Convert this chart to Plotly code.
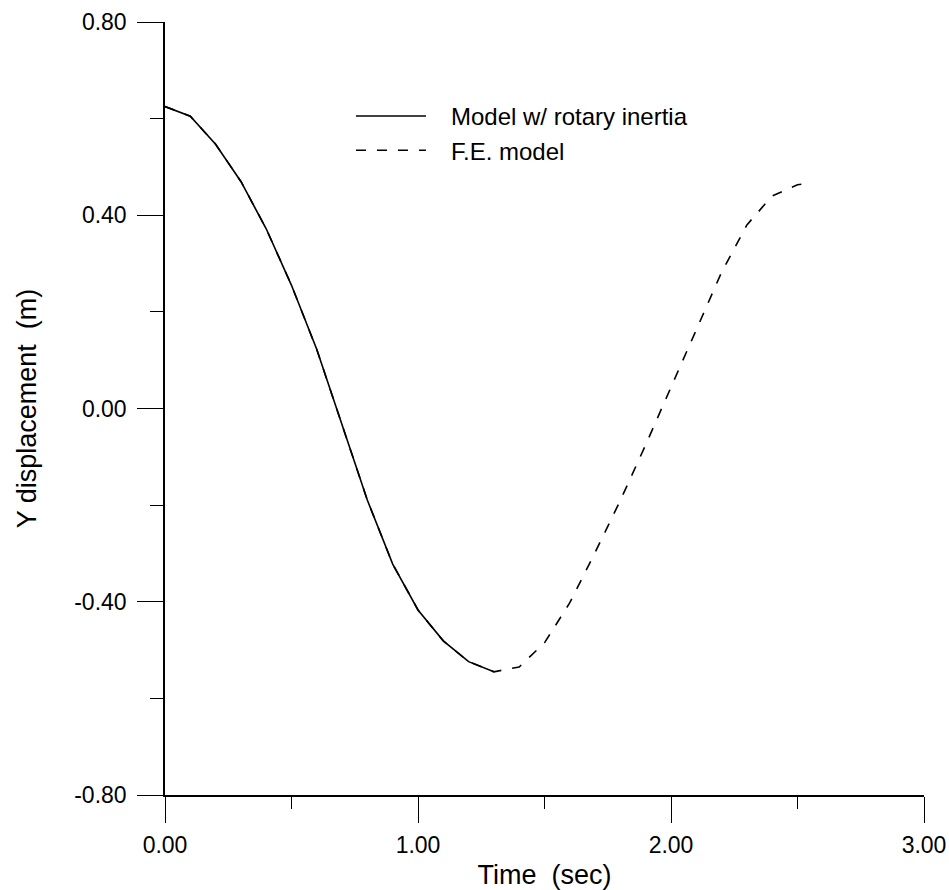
import plotly.graph_objects as go

# Data
t_rot = [0.0, 0.1, 0.2, 0.3, 0.4, 0.5, 0.6, 0.7, 0.8, 0.9, 1.0, 1.1, 1.2, 1.3]
y_rot = [0.625, 0.605, 0.547, 0.470, 0.372, 0.255, 0.122, -0.035, -0.190, -0.322,
         -0.417, -0.481, -0.524, -0.545]

t_fe = [0.0, 0.1, 0.2, 0.3, 0.4, 0.5, 0.6, 0.7, 0.8, 0.9, 1.0, 1.1, 1.2, 1.3,
        1.4, 1.5, 1.6, 1.7, 1.8, 1.9, 2.0, 2.1, 2.2, 2.3, 2.4, 2.5, 2.55]
y_fe = [0.625, 0.605, 0.547, 0.470, 0.372, 0.255, 0.122, -0.035, -0.190, -0.322,
        -0.417, -0.481, -0.524, -0.545, -0.535, -0.485, -0.402, -0.298, -0.190,
        -0.075, 0.045, 0.162, 0.282, 0.380, 0.440, 0.463, 0.467]

x_tick_vals = [0.0, 1.0, 2.0, 3.0]
x_tick_labels = ["0.00", "1.00", "2.00", "3.00"]
y_tick_vals = [-0.8, -0.4, 0.0, 0.4, 0.8]
y_tick_labels = ["-0.80", "-0.40", "0.00", "0.40", "0.80"]

FONT = "Liberation Sans, Arial, Helvetica, sans-serif"
PAD = "\u00a0\u00a0\u00a0"

fig = go.Figure()
fig.add_trace(go.Scatter(
    x=t_rot, y=y_rot, mode="lines", name=PAD + "Model w/ rotary inertia",
    line=dict(color="black", width=1.6)))
fig.add_trace(go.Scatter(
    x=t_fe, y=y_fe, mode="lines", name=PAD + "F.E. model",
    line=dict(color="black", width=1.6, dash="10px,11px")))

axis_common = dict(
    showgrid=False, zeroline=False, showline=True, linecolor="black", linewidth=1.5,
    ticks="outside", ticklen=26, tickwidth=1.2, tickcolor="black",
    tickfont=dict(family=FONT, size=23, color="black"),
    automargin=False,
)

fig.update_layout(
    width=949, height=890,
    margin=dict(l=165, r=25, t=22, b=95),
    paper_bgcolor="white", plot_bgcolor="white",
    font=dict(family=FONT, color="black"),
    xaxis=dict(
        range=[0, 3], tickvals=x_tick_vals, ticktext=x_tick_labels,
        minor=dict(dtick=0.5, tick0=0, ticks="outside", ticklen=12, tickcolor="black", tickwidth=1.2),
        ticklabelstandoff=3,
        title=dict(text="Time  (sec)", font=dict(family=FONT, size=27, color="black"), standoff=16),
        **axis_common),
    yaxis=dict(
        range=[-0.8, 0.8], tickvals=y_tick_vals, ticktext=y_tick_labels,
        minor=dict(dtick=0.2, tick0=0, ticks="outside", ticklen=13, tickcolor="black", tickwidth=1.2),
        ticklabelstandoff=6,
        title=dict(text="Y displacement  (m)", font=dict(family=FONT, size=27, color="black"), standoff=30),
        **axis_common),
    legend=dict(
        x=0.245, y=0.907, xanchor="left", yanchor="top",
        font=dict(family=FONT, size=24, color="black"),
        bgcolor="rgba(0,0,0,0)", borderwidth=0, itemwidth=70,
        tracegroupgap=0,
    ),
    showlegend=True,
)

fig.write_html("out.html")
